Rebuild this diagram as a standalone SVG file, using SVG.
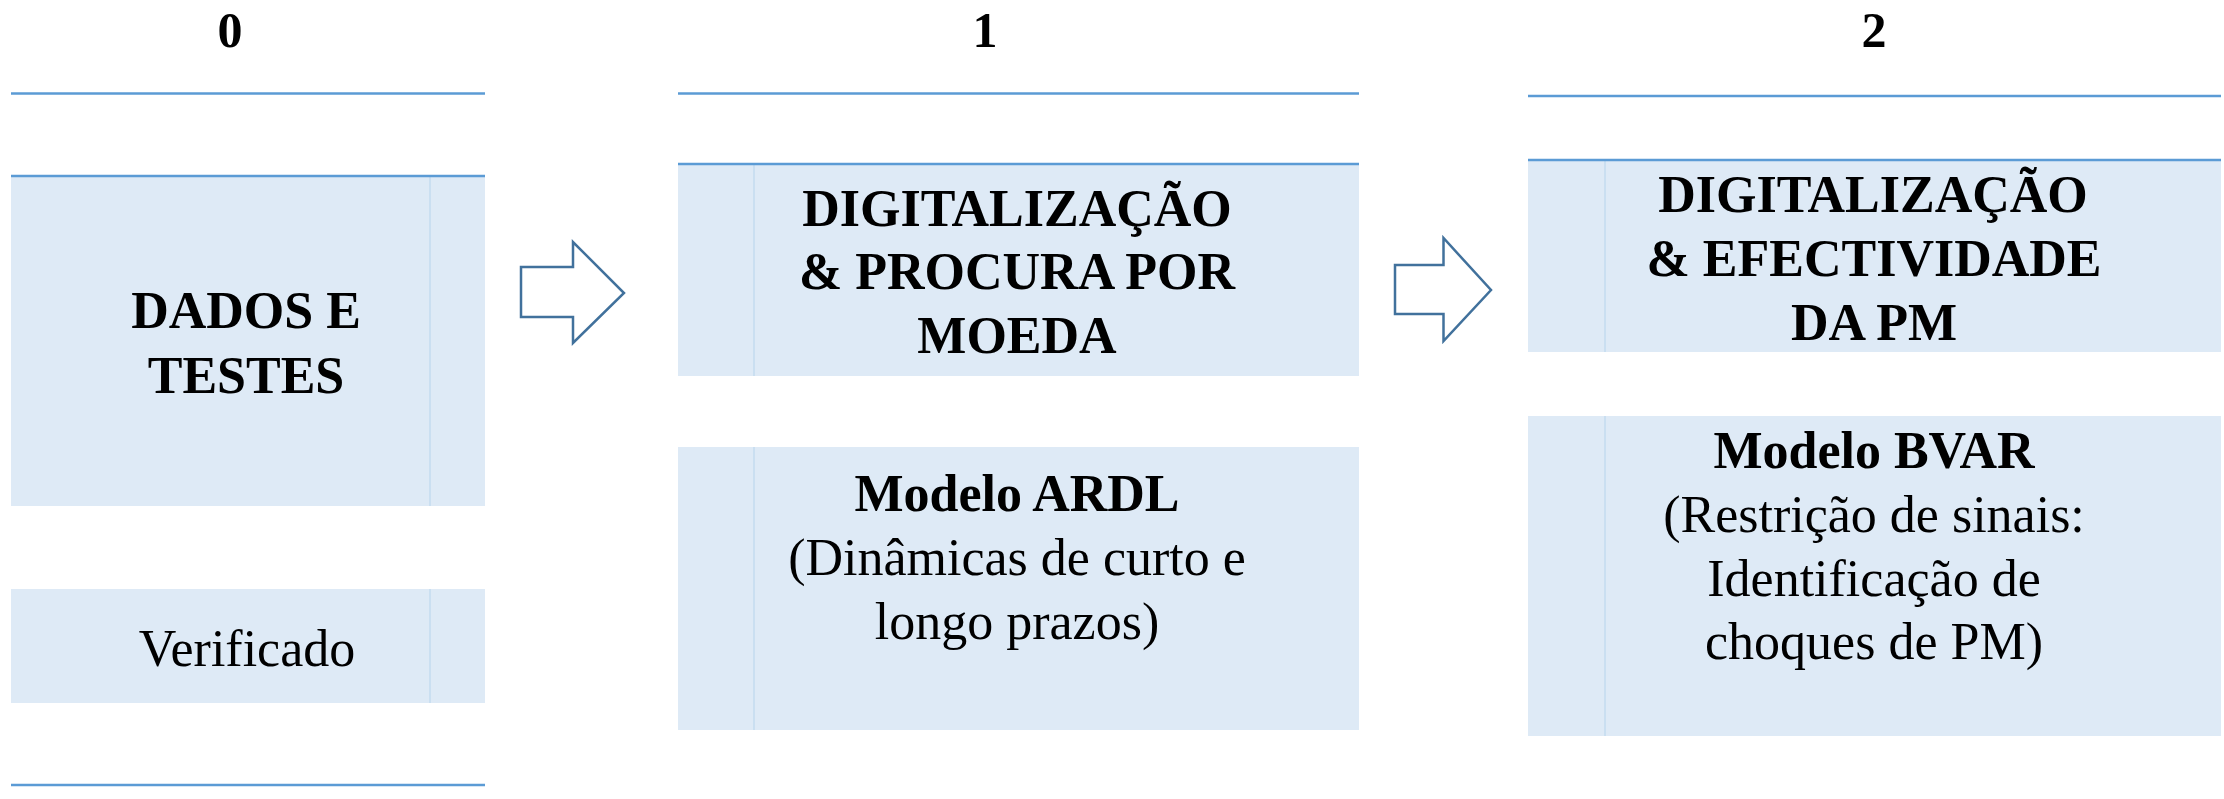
<svg xmlns="http://www.w3.org/2000/svg" width="2224" height="799" viewBox="0 0 2224 799">
<style>
.bg{fill:#ffffff}
.rule{stroke:#5B9BD5;stroke-width:2.5;fill:none}
.box{fill:#DEEAF6}
.sep{stroke:#BDD7EE;stroke-width:1.2}
.arrow{fill:#ffffff;stroke:#41719C;stroke-width:2.5;stroke-linejoin:miter}
text{font-family:"Liberation Serif","Times New Roman",serif;fill:#000;text-anchor:middle}
.num{font-size:50px;font-weight:bold}
.hb{font-size:52px;font-weight:bold}
.t{font-size:52px}
</style>
<rect class="bg" x="0" y="0" width="2224" height="799"/>

<g id="col0">
  <text class="num" x="230" y="47">0</text>
  <line class="rule" x1="11" y1="93.5" x2="485" y2="93.5"/>
  <line class="rule" x1="11" y1="785" x2="485" y2="785"/>
  <g id="node-dados">
    <rect class="box" x="11" y="176" width="474" height="330"/>
    <line class="sep" x1="430" y1="176" x2="430" y2="506"/>
    <line class="rule" x1="11" y1="176" x2="485" y2="176"/>
    <text class="hb" x="246" y="328">DADOS E</text>
    <text class="hb" x="246" y="393">TESTES</text>
  </g>
  <g id="node-verificado">
    <rect class="box" x="11" y="589" width="474" height="114"/>
    <line class="sep" x1="430" y1="589" x2="430" y2="703"/>
    <text class="t" x="247" y="666">Verificado</text>
  </g>
</g>

<g id="col1">
  <text class="num" x="985" y="47">1</text>
  <line class="rule" x1="678" y1="93.5" x2="1359" y2="93.5"/>
  <g id="node-procura">
    <rect class="box" x="678" y="164" width="681" height="212"/>
    <line class="sep" x1="754" y1="164" x2="754" y2="376"/>
    <line class="rule" x1="678" y1="164" x2="1359" y2="164"/>
    <text class="hb" x="1017" y="226">DIGITALIZAÇÃO</text>
    <text class="hb" x="1017" y="289">&amp; PROCURA POR</text>
    <text class="hb" x="1017" y="353">MOEDA</text>
  </g>
  <g id="node-ardl">
    <rect class="box" x="678" y="447" width="681" height="283"/>
    <line class="sep" x1="754" y1="447" x2="754" y2="730"/>
    <text class="hb" x="1017" y="511">Modelo ARDL</text>
    <text class="t" x="1017" y="575">(Dinâmicas de curto e</text>
    <text class="t" x="1017" y="639">longo prazos)</text>
  </g>
</g>

<g id="col2">
  <text class="num" x="1874" y="47">2</text>
  <line class="rule" x1="1528" y1="96" x2="2221" y2="96"/>
  <g id="node-efectividade">
    <rect class="box" x="1528" y="160" width="693" height="192"/>
    <line class="sep" x1="1605" y1="160" x2="1605" y2="352"/>
    <line class="rule" x1="1528" y1="160" x2="2221" y2="160"/>
    <text class="hb" x="1873" y="212">DIGITALIZAÇÃO</text>
    <text class="hb" x="1874" y="276">&amp; EFECTIVIDADE</text>
    <text class="hb" x="1874" y="340">DA PM</text>
  </g>
  <g id="node-bvar">
    <rect class="box" x="1528" y="416" width="693" height="320"/>
    <line class="sep" x1="1605" y1="416" x2="1605" y2="736"/>
    <text class="hb" x="1874" y="468">Modelo BVAR</text>
    <text class="t" x="1874" y="532">(Restrição de sinais:</text>
    <text class="t" x="1874" y="596">Identificação de</text>
    <text class="t" x="1874" y="659">choques de PM)</text>
  </g>
</g>

<g id="connectors">
  <polygon class="arrow" points="521,267 573,267 573,242 624,293 573,343 573,317 521,317"/>
  <polygon class="arrow" points="1395,265 1443.5,265 1443.5,238 1491,290 1443.5,341 1443.5,314 1395,314"/>
</g>
</svg>
